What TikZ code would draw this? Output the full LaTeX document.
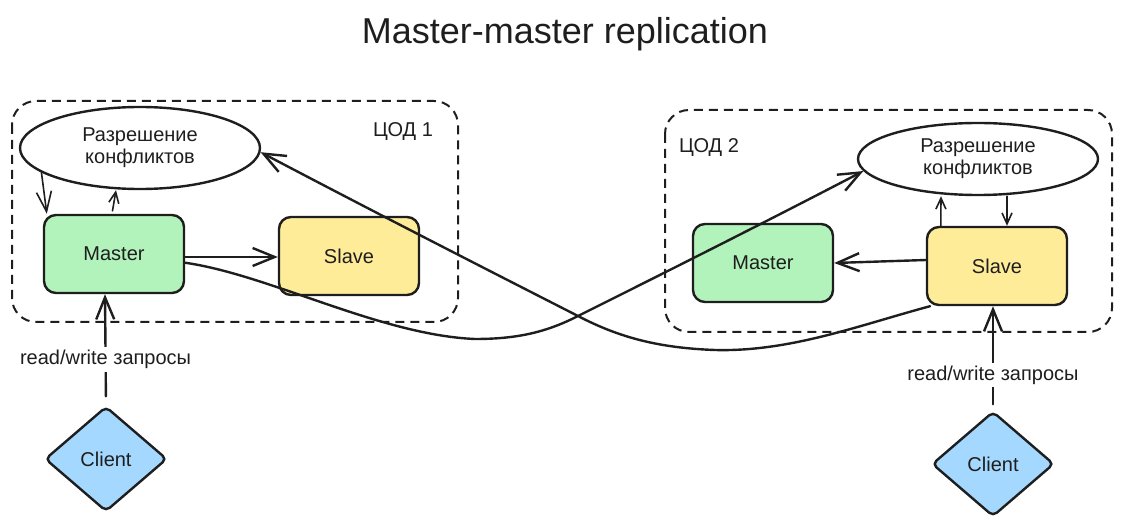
\documentclass[tikz,border=0pt]{standalone}
\usepackage{fontspec}
\setmainfont{Liberation Sans}
\usetikzlibrary{arrows.meta,shapes.geometric}
\definecolor{ink}{HTML}{1E1E1E}
\definecolor{gfill}{HTML}{B2F2BB}
\definecolor{yfill}{HTML}{FFEC99}
\definecolor{bfill}{HTML}{A5D8FF}
\begin{document}
\begin{tikzpicture}[x=1pt,y=-1pt,
  txt/.style={font=\fontsize{20}{22}\selectfont, text=ink},
  box/.style={txt, draw=ink, line width=2.4pt, rounded corners=12pt, minimum width=140pt, minimum height=78pt, inner sep=0pt},
  mastbox/.style={box, fill=gfill},
  slavebox/.style={box, fill=yfill},
  resolver/.style={txt, ellipse, draw=ink, line width=2.4pt, minimum width=240pt, minimum height=80pt, inner sep=0pt, align=center},
  clientnode/.style={txt, diamond, draw=ink, line width=2.4pt, fill=bfill, minimum width=122pt, minimum height=105pt, inner sep=0pt, rounded corners=5pt},
  zone/.style={draw=ink, line width=2pt, dash pattern=on 9pt off 6pt, rounded corners=24pt},
  zonelabel/.style={txt, anchor=west, inner sep=0pt},
  lbl/.style={txt, fill=white, inner sep=3pt},
  bigarr/.style={draw=ink, line width=2.4pt, line cap=round, -{Straight Barb[length=22pt,width=18pt]}},
  medarr/.style={draw=ink, line width=1.6pt, line cap=round, -{Straight Barb[length=20pt,width=15pt]}},
  smallarr/.style={draw=ink, line width=1.6pt, line cap=round, -{Straight Barb[length=11pt,width=10pt]}}
]
\useasboundingbox (0,0) rectangle (1122,529);

% title
\node[font=\fontsize{36}{40}\selectfont, text=ink, anchor=base] (title) at (565,44) {Master-master replication};

% zones
\draw[zone] (12,101) rectangle (458,322);
\draw[zone] (665,110) rectangle (1112,332);
\node[zonelabel] (z1) at (373,132) {ЦОД 1};
\node[zonelabel] (z2) at (679,148) {ЦОД 2};

% nodes
\node[resolver, minimum height=82pt] (e1) at (140,148) {Разрешение\\конфликтов};
\node[resolver, minimum height=72pt] (e2) at (978,159) {Разрешение\\конфликтов};
\node[mastbox] (m1) at (114,254) {Master};
\node[slavebox] (s1) at (349,256) {Slave};
\node[mastbox] (m2) at (763,263) {Master};
\node[slavebox] (s2) at (997,266) {Slave};
\node[clientnode] (c1) at (106,459) {Client};
\node[clientnode] (c2) at (993,464) {Client};

% DC1 arrows
\draw[medarr] (e1.194) -- ([xshift=4pt]m1.north west);
\draw[smallarr, shorten <=3pt] ([xshift=-2pt]m1.north) -- ([xshift=-24pt]e1.south);
\draw[bigarr] ([yshift=-3pt]m1.east) -- ([yshift=-1pt]s1.west);

% DC2 arrows
\draw[bigarr] ([yshift=6pt]s2.west) -- (m2.east);
\draw[smallarr] ([xshift=15pt]s2.north west) -- ([xshift=-37pt]e2.south);
\draw[smallarr] ([xshift=29pt]e2.south) -- ([xshift=10pt]s2.north);

% clients
\draw[bigarr, shorten <=9pt] (c1.north) -- node[lbl, pos=0.41] (l1) {read/write запросы} ([xshift=-9pt]m1.south);
\draw[bigarr, shorten <=6pt] (c2.north) -- node[lbl, pos=0.34] (l2) {read/write запросы} ([xshift=-4pt]s2.south);

% cross-DC replication
\draw[bigarr] (m1.-7) .. controls (270,275) and (380,335) .. (475,339)
  .. controls (515,339) and (545,333) .. (578,316)
  .. controls (640,285) and (760,225) .. (e2.186);
\draw[bigarr] (s2.211) .. controls (860,325) and (790,352) .. (715,350)
  .. controls (660,348) and (620,338) .. (578,316)
  .. controls (480,266) and (380,215) .. (e1.-2);
\end{tikzpicture}
\end{document}
